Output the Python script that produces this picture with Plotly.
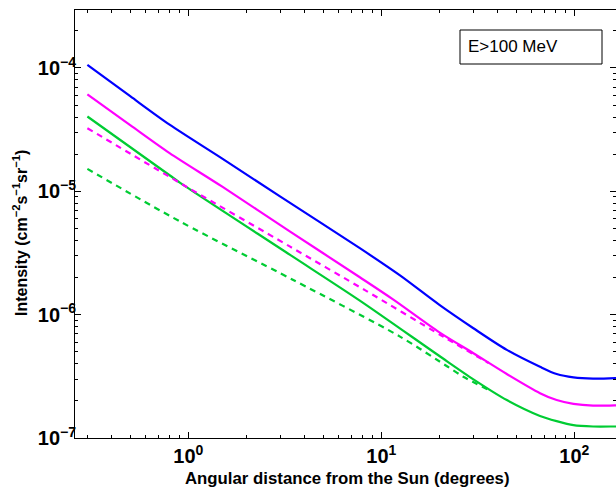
import plotly.graph_objects as go

# ---- data ----
blue_x = [0.3, 0.5, 0.8, 1.5, 3, 7.74, 12.5, 20, 30, 44.7, 66.4, 81, 99, 125, 163, 175]
blue_y = [1.06e-4, 5.9e-5, 3.47e-5, 1.84e-5, 9.05e-6, 3.46e-6, 2.08e-6, 1.20e-6, 7.76e-7,
          5.18e-7, 3.78e-7, 3.30e-7, 3.10e-7, 3.03e-7, 3.06e-7, 3.08e-7]

mag_x = [0.3, 0.5, 0.8, 1.5, 3.37, 7.74, 11.5, 20, 30, 44.7, 66.4, 81, 99, 125, 163, 175]
mag_y = [6.1e-5, 3.44e-5, 2.04e-5, 1.09e-5, 4.71e-6, 2.01e-6, 1.33e-6, 7.19e-7, 4.87e-7,
         3.30e-7, 2.31e-7, 2.03e-7, 1.89e-7, 1.83e-7, 1.84e-7, 1.85e-7]

grn_x = [0.3, 0.8, 0.908, 3.37, 7.74, 20, 30, 44.7, 66.4, 81, 99, 125, 163, 175]
grn_y = [4.04e-5, 1.35e-5, 1.17e-5, 3.05e-6, 1.30e-6, 4.62e-7, 2.99e-7, 2.03e-7, 1.51e-7,
         1.37e-7, 1.27e-7, 1.24e-7, 1.24e-7, 1.24e-7]

magd_x = [0.3, 0.987, 3.37, 8.23, 20.9, 36]
magd_y = [3.25e-5, 1.08e-5, 3.56e-6, 1.58e-6, 6.64e-7, 4.05e-7]

grnd_x = [0.3, 0.908, 3.5, 12.5, 22, 26.6, 36]
grnd_y = [1.52e-5, 5.68e-6, 1.91e-6, 6.64e-7, 3.8e-7, 3.14e-7, 2.45e-7]

x_major = [1, 10, 100]
x_major_text = ["<b>10<sup>0</sup></b>", "<b>10<sup>1</sup></b>", "<b>10<sup>2</sup></b>"]
y_major = [1e-7, 1e-6, 1e-5, 1e-4]
y_major_text = ["<b>10<sup>−7</sup></b>", "<b>10<sup>−6</sup></b>",
                "<b>10<sup>−5</sup></b>", "<b>10<sup>−4</sup></b>"]

x_minor = [k * 10.0 ** e for e in (-1, 0, 1, 2) for k in range(2, 10)]
y_minor = [k * 10.0 ** e for e in (-8, -7, -6, -5, -4) for k in range(2, 10)]

BLUE = "#0000ff"
MAG = "#ff00ff"
GRN = "#00cc33"
FONT = "Liberation Sans, Arial, sans-serif"

fig = go.Figure()
for xs, ys, col, dash in [(blue_x, blue_y, BLUE, "solid"), (mag_x, mag_y, MAG, "solid"),
                          (grn_x, grn_y, GRN, "solid"), (magd_x, magd_y, MAG, "6px,5px"),
                          (grnd_x, grnd_y, GRN, "6px,5px")]:
    fig.add_trace(go.Scatter(x=xs, y=ys, mode="lines", hoverinfo="skip",
                             line=dict(color=col, width=2.2, dash=dash,
                                       shape="spline", smoothing=0.8)))

axis_common = dict(
    showgrid=False, zeroline=False, showline=True, linecolor="black", linewidth=1,
    mirror="ticks", ticks="inside", ticklen=6, tickwidth=1, tickcolor="black",
    tickfont=dict(family=FONT, size=20, color="black"), automargin=False,
)

fig.update_xaxes(
    type="log", range=[-0.587, 2.216],
    tickmode="array", tickvals=x_major, ticktext=x_major_text,
    minor=dict(ticks="inside", ticklen=3, tickcolor="black", tickvals=x_minor, showgrid=False),
    **axis_common,
)
fig.update_yaxes(
    type="log", range=[-7, -3.53],
    tickmode="array", tickvals=y_major, ticktext=y_major_text, ticklabelstandoff=-6,
    minor=dict(ticks="inside", ticklen=3, tickcolor="black", tickvals=y_minor, showgrid=False),
    **axis_common,
)

fig.add_annotation(text="<b>Angular distance from the Sun (degrees)</b>", xref="paper", yref="paper",
                   x=(347 - 75) / 541, y=(438 - 478) / 428, xanchor="center", yanchor="middle",
                   showarrow=False, font=dict(family=FONT, size=16.8, color="black"))
fig.add_annotation(text="<b>Intensity (cm<sup>−2</sup>s<sup>−1</sup>sr<sup>−1</sup>)</b>",
                   xref="paper", yref="paper", textangle=-90,
                   x=(20 - 75) / 541, y=(438 - 233) / 428, xanchor="center", yanchor="middle",
                   showarrow=False, font=dict(family=FONT, size=16, color="black"))

fig.add_shape(type="rect", xref="paper", yref="paper",
              x0=(460 - 75) / 541, x1=(602 - 75) / 541,
              y0=(438 - 64) / 428, y1=(438 - 30) / 428,
              line=dict(color="black", width=1), fillcolor="white")
fig.add_annotation(text="E>100 MeV", xref="paper", yref="paper",
                   x=(466 - 75) / 541, y=(438 - 46) / 428, xanchor="left", yanchor="middle",
                   showarrow=False, font=dict(family=FONT, size=17, color="black"))

fig.update_layout(
    width=616, height=489,
    margin=dict(l=75, r=0, t=10, b=51),
    paper_bgcolor="white", plot_bgcolor="white",
    showlegend=False, hovermode=False,
)

fig.write_html("out.html", config={"displayModeBar": False, "staticPlot": True},
               post_script="document.body.style.margin='0';document.body.style.overflow='hidden';")
